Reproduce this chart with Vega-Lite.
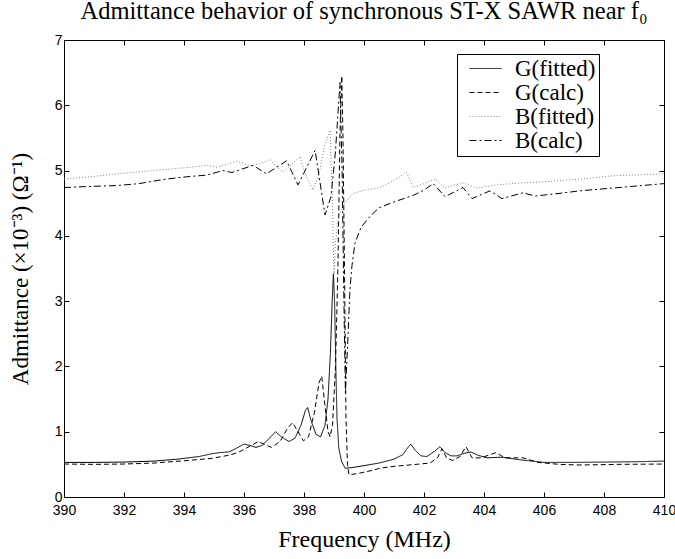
{
  "$schema": "https://vega.github.io/schema/vega-lite/v6.json",
  "width": 600,
  "height": 457,
  "autosize": {"type": "none"},
  "padding": {"left": 64, "top": 40, "right": 11, "bottom": 62},
  "background": "white",
  "title": {
    "text": "Admittance behavior of synchronous ST-X SAWR near f₀",
    "font": "Liberation Serif",
    "fontSize": 24.5,
    "fontWeight": "normal",
    "color": "black",
    "anchor": "middle",
    "offset": 9
  },
  "config": {
    "view": {"stroke": "black", "strokeWidth": 1},
    "axis": {
      "grid": false,
      "domain": false,
      "tickColor": "black",
      "tickWidth": 1,
      "tickSize": 5,
      "labelFont": "Liberation Sans",
      "labelFontSize": 14,
      "labelColor": "black",
      "titleFont": "Liberation Serif",
      "titleFontWeight": "normal",
      "titleColor": "black"
    }
  },
  "data": {
    "values": [
      {"f": 390.0, "v": 0.53, "s": "G(fitted)"},
      {"f": 391.0, "v": 0.53, "s": "G(fitted)"},
      {"f": 392.0, "v": 0.535, "s": "G(fitted)"},
      {"f": 393.0, "v": 0.55, "s": "G(fitted)"},
      {"f": 393.8, "v": 0.58, "s": "G(fitted)"},
      {"f": 394.5, "v": 0.62, "s": "G(fitted)"},
      {"f": 394.9, "v": 0.66, "s": "G(fitted)"},
      {"f": 395.2, "v": 0.68, "s": "G(fitted)"},
      {"f": 395.5, "v": 0.69, "s": "G(fitted)"},
      {"f": 395.8, "v": 0.76, "s": "G(fitted)"},
      {"f": 396.0, "v": 0.81, "s": "G(fitted)"},
      {"f": 396.2, "v": 0.79, "s": "G(fitted)"},
      {"f": 396.4, "v": 0.76, "s": "G(fitted)"},
      {"f": 396.6, "v": 0.79, "s": "G(fitted)"},
      {"f": 396.85, "v": 0.9, "s": "G(fitted)"},
      {"f": 397.05, "v": 1.0, "s": "G(fitted)"},
      {"f": 397.25, "v": 0.92, "s": "G(fitted)"},
      {"f": 397.5, "v": 0.85, "s": "G(fitted)"},
      {"f": 397.7, "v": 0.9, "s": "G(fitted)"},
      {"f": 397.9, "v": 1.1, "s": "G(fitted)"},
      {"f": 398.05, "v": 1.33, "s": "G(fitted)"},
      {"f": 398.12, "v": 1.37, "s": "G(fitted)"},
      {"f": 398.25, "v": 1.15, "s": "G(fitted)"},
      {"f": 398.4, "v": 0.96, "s": "G(fitted)"},
      {"f": 398.55, "v": 0.92, "s": "G(fitted)"},
      {"f": 398.7, "v": 1.1, "s": "G(fitted)"},
      {"f": 398.8, "v": 1.5, "s": "G(fitted)"},
      {"f": 398.88, "v": 2.2, "s": "G(fitted)"},
      {"f": 398.94, "v": 3.0, "s": "G(fitted)"},
      {"f": 398.98, "v": 3.42, "s": "G(fitted)"},
      {"f": 399.02, "v": 3.0, "s": "G(fitted)"},
      {"f": 399.06, "v": 2.0, "s": "G(fitted)"},
      {"f": 399.1, "v": 1.2, "s": "G(fitted)"},
      {"f": 399.16, "v": 0.75, "s": "G(fitted)"},
      {"f": 399.25, "v": 0.55, "s": "G(fitted)"},
      {"f": 399.37, "v": 0.44, "s": "G(fitted)"},
      {"f": 399.6, "v": 0.45, "s": "G(fitted)"},
      {"f": 400.0, "v": 0.48, "s": "G(fitted)"},
      {"f": 400.5, "v": 0.52, "s": "G(fitted)"},
      {"f": 401.0, "v": 0.58, "s": "G(fitted)"},
      {"f": 401.3, "v": 0.65, "s": "G(fitted)"},
      {"f": 401.45, "v": 0.75, "s": "G(fitted)"},
      {"f": 401.56, "v": 0.81, "s": "G(fitted)"},
      {"f": 401.7, "v": 0.72, "s": "G(fitted)"},
      {"f": 401.9, "v": 0.63, "s": "G(fitted)"},
      {"f": 402.1, "v": 0.62, "s": "G(fitted)"},
      {"f": 402.35, "v": 0.7, "s": "G(fitted)"},
      {"f": 402.53, "v": 0.77, "s": "G(fitted)"},
      {"f": 402.7, "v": 0.68, "s": "G(fitted)"},
      {"f": 402.9, "v": 0.63, "s": "G(fitted)"},
      {"f": 403.1, "v": 0.63, "s": "G(fitted)"},
      {"f": 403.35, "v": 0.67, "s": "G(fitted)"},
      {"f": 403.56, "v": 0.69, "s": "G(fitted)"},
      {"f": 403.8, "v": 0.64, "s": "G(fitted)"},
      {"f": 404.1, "v": 0.6, "s": "G(fitted)"},
      {"f": 404.6, "v": 0.61, "s": "G(fitted)"},
      {"f": 405.2, "v": 0.57, "s": "G(fitted)"},
      {"f": 406.0, "v": 0.53, "s": "G(fitted)"},
      {"f": 407.0, "v": 0.53, "s": "G(fitted)"},
      {"f": 408.0, "v": 0.535, "s": "G(fitted)"},
      {"f": 409.0, "v": 0.54, "s": "G(fitted)"},
      {"f": 410.0, "v": 0.55, "s": "G(fitted)"},

      {"f": 390.0, "v": 0.505, "s": "G(calc)"},
      {"f": 391.0, "v": 0.5, "s": "G(calc)"},
      {"f": 392.0, "v": 0.505, "s": "G(calc)"},
      {"f": 393.0, "v": 0.52, "s": "G(calc)"},
      {"f": 394.0, "v": 0.555, "s": "G(calc)"},
      {"f": 394.9, "v": 0.59, "s": "G(calc)"},
      {"f": 395.5, "v": 0.64, "s": "G(calc)"},
      {"f": 395.8, "v": 0.68, "s": "G(calc)"},
      {"f": 396.2, "v": 0.78, "s": "G(calc)"},
      {"f": 396.48, "v": 0.85, "s": "G(calc)"},
      {"f": 396.7, "v": 0.8, "s": "G(calc)"},
      {"f": 396.92, "v": 0.76, "s": "G(calc)"},
      {"f": 397.2, "v": 0.85, "s": "G(calc)"},
      {"f": 397.45, "v": 1.05, "s": "G(calc)"},
      {"f": 397.62, "v": 1.14, "s": "G(calc)"},
      {"f": 397.8, "v": 1.0, "s": "G(calc)"},
      {"f": 397.98, "v": 0.86, "s": "G(calc)"},
      {"f": 398.15, "v": 0.92, "s": "G(calc)"},
      {"f": 398.35, "v": 1.3, "s": "G(calc)"},
      {"f": 398.5, "v": 1.75, "s": "G(calc)"},
      {"f": 398.59, "v": 1.85, "s": "G(calc)"},
      {"f": 398.7, "v": 1.4, "s": "G(calc)"},
      {"f": 398.8, "v": 1.0, "s": "G(calc)"},
      {"f": 398.87, "v": 0.92, "s": "G(calc)"},
      {"f": 398.95, "v": 1.1, "s": "G(calc)"},
      {"f": 399.05, "v": 2.0, "s": "G(calc)"},
      {"f": 399.13, "v": 3.5, "s": "G(calc)"},
      {"f": 399.2, "v": 5.6, "s": "G(calc)"},
      {"f": 399.26, "v": 6.45, "s": "G(calc)"},
      {"f": 399.3, "v": 5.5, "s": "G(calc)"},
      {"f": 399.35, "v": 3.5, "s": "G(calc)"},
      {"f": 399.4, "v": 1.2, "s": "G(calc)"},
      {"f": 399.45, "v": 0.5, "s": "G(calc)"},
      {"f": 399.5, "v": 0.34, "s": "G(calc)"},
      {"f": 399.8, "v": 0.36, "s": "G(calc)"},
      {"f": 400.2, "v": 0.4, "s": "G(calc)"},
      {"f": 400.53, "v": 0.44, "s": "G(calc)"},
      {"f": 401.0, "v": 0.47, "s": "G(calc)"},
      {"f": 401.5, "v": 0.49, "s": "G(calc)"},
      {"f": 402.2, "v": 0.52, "s": "G(calc)"},
      {"f": 402.45, "v": 0.6, "s": "G(calc)"},
      {"f": 402.6, "v": 0.74, "s": "G(calc)"},
      {"f": 402.75, "v": 0.6, "s": "G(calc)"},
      {"f": 402.95, "v": 0.56, "s": "G(calc)"},
      {"f": 403.2, "v": 0.62, "s": "G(calc)"},
      {"f": 403.4, "v": 0.77, "s": "G(calc)"},
      {"f": 403.6, "v": 0.6, "s": "G(calc)"},
      {"f": 403.9, "v": 0.6, "s": "G(calc)"},
      {"f": 404.15, "v": 0.64, "s": "G(calc)"},
      {"f": 404.4, "v": 0.68, "s": "G(calc)"},
      {"f": 404.7, "v": 0.6, "s": "G(calc)"},
      {"f": 405.3, "v": 0.6, "s": "G(calc)"},
      {"f": 405.8, "v": 0.53, "s": "G(calc)"},
      {"f": 406.5, "v": 0.5, "s": "G(calc)"},
      {"f": 407.2, "v": 0.49, "s": "G(calc)"},
      {"f": 408.5, "v": 0.5, "s": "G(calc)"},
      {"f": 410.0, "v": 0.505, "s": "G(calc)"},

      {"f": 390.0, "v": 4.87, "s": "B(fitted)"},
      {"f": 391.0, "v": 4.91, "s": "B(fitted)"},
      {"f": 391.75, "v": 4.95, "s": "B(fitted)"},
      {"f": 392.5, "v": 4.98, "s": "B(fitted)"},
      {"f": 393.4, "v": 5.02, "s": "B(fitted)"},
      {"f": 394.2, "v": 5.05, "s": "B(fitted)"},
      {"f": 394.75, "v": 5.08, "s": "B(fitted)"},
      {"f": 395.1, "v": 5.05, "s": "B(fitted)"},
      {"f": 395.45, "v": 5.1, "s": "B(fitted)"},
      {"f": 395.76, "v": 5.14, "s": "B(fitted)"},
      {"f": 396.0, "v": 5.11, "s": "B(fitted)"},
      {"f": 396.2, "v": 5.07, "s": "B(fitted)"},
      {"f": 396.5, "v": 5.1, "s": "B(fitted)"},
      {"f": 396.87, "v": 5.17, "s": "B(fitted)"},
      {"f": 397.1, "v": 5.05, "s": "B(fitted)"},
      {"f": 397.31, "v": 4.98, "s": "B(fitted)"},
      {"f": 397.6, "v": 5.1, "s": "B(fitted)"},
      {"f": 397.87, "v": 5.22, "s": "B(fitted)"},
      {"f": 398.0, "v": 5.0, "s": "B(fitted)"},
      {"f": 398.14, "v": 4.85, "s": "B(fitted)"},
      {"f": 398.31, "v": 4.7, "s": "B(fitted)"},
      {"f": 398.5, "v": 4.95, "s": "B(fitted)"},
      {"f": 398.7, "v": 5.4, "s": "B(fitted)"},
      {"f": 398.87, "v": 5.62, "s": "B(fitted)"},
      {"f": 398.95, "v": 4.5, "s": "B(fitted)"},
      {"f": 399.0, "v": 3.4, "s": "B(fitted)"},
      {"f": 399.05, "v": 3.9, "s": "B(fitted)"},
      {"f": 399.15, "v": 4.3, "s": "B(fitted)"},
      {"f": 399.35, "v": 4.5, "s": "B(fitted)"},
      {"f": 399.65, "v": 4.65, "s": "B(fitted)"},
      {"f": 400.0, "v": 4.7, "s": "B(fitted)"},
      {"f": 400.53, "v": 4.74, "s": "B(fitted)"},
      {"f": 401.0, "v": 4.85, "s": "B(fitted)"},
      {"f": 401.42, "v": 4.97, "s": "B(fitted)"},
      {"f": 401.64, "v": 4.74, "s": "B(fitted)"},
      {"f": 402.0, "v": 4.8, "s": "B(fitted)"},
      {"f": 402.37, "v": 4.87, "s": "B(fitted)"},
      {"f": 402.7, "v": 4.73, "s": "B(fitted)"},
      {"f": 403.0, "v": 4.78, "s": "B(fitted)"},
      {"f": 403.31, "v": 4.81, "s": "B(fitted)"},
      {"f": 403.76, "v": 4.73, "s": "B(fitted)"},
      {"f": 404.42, "v": 4.78, "s": "B(fitted)"},
      {"f": 405.2, "v": 4.81, "s": "B(fitted)"},
      {"f": 406.09, "v": 4.83, "s": "B(fitted)"},
      {"f": 407.2, "v": 4.87, "s": "B(fitted)"},
      {"f": 408.3, "v": 4.92, "s": "B(fitted)"},
      {"f": 410.0, "v": 4.95, "s": "B(fitted)"},

      {"f": 390.0, "v": 4.74, "s": "B(calc)"},
      {"f": 391.0, "v": 4.76, "s": "B(calc)"},
      {"f": 391.75, "v": 4.77, "s": "B(calc)"},
      {"f": 392.5, "v": 4.8, "s": "B(calc)"},
      {"f": 393.4, "v": 4.87, "s": "B(calc)"},
      {"f": 394.2, "v": 4.91, "s": "B(calc)"},
      {"f": 394.75, "v": 4.93, "s": "B(calc)"},
      {"f": 395.3, "v": 5.0, "s": "B(calc)"},
      {"f": 395.6, "v": 4.97, "s": "B(calc)"},
      {"f": 396.3, "v": 5.08, "s": "B(calc)"},
      {"f": 396.75, "v": 4.95, "s": "B(calc)"},
      {"f": 397.42, "v": 5.15, "s": "B(calc)"},
      {"f": 397.8, "v": 4.78, "s": "B(calc)"},
      {"f": 398.37, "v": 5.31, "s": "B(calc)"},
      {"f": 398.7, "v": 4.32, "s": "B(calc)"},
      {"f": 398.9, "v": 4.6, "s": "B(calc)"},
      {"f": 399.05, "v": 5.3, "s": "B(calc)"},
      {"f": 399.2, "v": 6.35, "s": "B(calc)"},
      {"f": 399.27, "v": 5.0, "s": "B(calc)"},
      {"f": 399.33, "v": 3.0, "s": "B(calc)"},
      {"f": 399.38, "v": 1.6, "s": "B(calc)"},
      {"f": 399.47, "v": 2.5, "s": "B(calc)"},
      {"f": 399.53, "v": 3.17, "s": "B(calc)"},
      {"f": 399.6, "v": 3.55, "s": "B(calc)"},
      {"f": 399.7, "v": 3.89, "s": "B(calc)"},
      {"f": 399.9, "v": 4.13, "s": "B(calc)"},
      {"f": 400.2, "v": 4.3, "s": "B(calc)"},
      {"f": 400.5, "v": 4.43, "s": "B(calc)"},
      {"f": 401.0, "v": 4.52, "s": "B(calc)"},
      {"f": 401.64, "v": 4.62, "s": "B(calc)"},
      {"f": 402.0, "v": 4.7, "s": "B(calc)"},
      {"f": 402.31, "v": 4.8, "s": "B(calc)"},
      {"f": 402.7, "v": 4.6, "s": "B(calc)"},
      {"f": 403.3, "v": 4.74, "s": "B(calc)"},
      {"f": 403.6, "v": 4.57, "s": "B(calc)"},
      {"f": 404.2, "v": 4.69, "s": "B(calc)"},
      {"f": 404.6, "v": 4.57, "s": "B(calc)"},
      {"f": 405.3, "v": 4.66, "s": "B(calc)"},
      {"f": 405.7, "v": 4.61, "s": "B(calc)"},
      {"f": 406.5, "v": 4.65, "s": "B(calc)"},
      {"f": 407.2, "v": 4.69, "s": "B(calc)"},
      {"f": 408.5, "v": 4.74, "s": "B(calc)"},
      {"f": 410.0, "v": 4.8, "s": "B(calc)"}
    ]
  },
  "resolve": {"axis": {"x": "independent", "y": "independent"}},
  "layer": [
    {
      "mark": {"type": "line", "strokeWidth": 1, "clip": true},
      "encoding": {
        "x": {
          "field": "f", "type": "quantitative",
          "scale": {"domain": [390, 410], "nice": false, "zero": false},
          "axis": {
            "orient": "bottom", "title": "Frequency (MHz)",
            "values": [390, 392, 394, 396, 398, 400, 402, 404, 406, 408, 410],
            "ticks": false, "tickSize": 0,
            "labelPadding": 6, "titlePadding": 10, "titleFontSize": 24, "labelFlush": false
          }
        },
        "y": {
          "field": "v", "type": "quantitative",
          "scale": {"domain": [0, 7], "nice": false},
          "axis": {
            "orient": "left", "title": "Admittance (×10⁻³) (Ω⁻¹)",
            "values": [0, 1, 2, 3, 4, 5, 6, 7],
            "ticks": false, "tickSize": 0,
            "labelPadding": 2, "titlePadding": 22, "titleFontSize": 23
          }
        },
        "color": {
          "field": "s", "type": "nominal",
          "scale": {
            "domain": ["G(fitted)", "G(calc)", "B(fitted)", "B(calc)"],
            "range": ["black", "black", "#808080", "black"]
          },
          "legend": {
            "title": null,
            "orient": "none",
            "legendX": 393,
            "legendY": 14,
            "symbolType": "M-1.6,0H1.6",
            "symbolSize": 400,
            "symbolStrokeWidth": 1,
            "symbolOffset": 14,
            "labelFont": "Liberation Serif",
            "labelFontSize": 23,
            "labelColor": "black",
            "strokeColor": "black",
            "fillColor": "white",
            "padding": 3,
            "rowPadding": 0,
            "labelOffset": 18,
            "cornerRadius": 0
          }
        },
        "strokeDash": {
          "field": "s", "type": "nominal",
          "scale": {
            "domain": ["G(fitted)", "G(calc)", "B(fitted)", "B(calc)"],
            "range": [[1, 0], [5, 3], [1, 2], [7, 3, 2, 3]]
          },
          "legend": {
            "title": null,
            "orient": "none",
            "legendX": 393,
            "legendY": 14,
            "symbolType": "M-1.6,0H1.6",
            "symbolSize": 400,
            "symbolStrokeWidth": 1,
            "symbolOffset": 14,
            "labelFont": "Liberation Serif",
            "labelFontSize": 23,
            "labelColor": "black",
            "strokeColor": "black",
            "fillColor": "white",
            "padding": 3,
            "rowPadding": 0,
            "labelOffset": 18,
            "cornerRadius": 0
          }
        }
      }
    },
    {
      "mark": {"type": "line", "opacity": 0},
      "encoding": {
        "x": {
          "field": "f", "type": "quantitative",
          "axis": {
            "orient": "bottom", "title": null, "labels": false, "offset": -5,
            "values": [390, 392, 394, 396, 398, 400, 402, 404, 406, 408, 410]
          }
        },
        "y": {
          "field": "v", "type": "quantitative",
          "axis": {
            "orient": "left", "title": null, "labels": false, "offset": -5,
            "values": [0, 1, 2, 3, 4, 5, 6, 7]
          }
        },
        "detail": {"field": "s"}
      }
    },
    {
      "mark": {"type": "line", "opacity": 0},
      "encoding": {
        "x": {
          "field": "f", "type": "quantitative",
          "axis": {
            "orient": "top", "title": null, "labels": false, "offset": -5,
            "values": [390, 392, 394, 396, 398, 400, 402, 404, 406, 408, 410]
          }
        },
        "y": {
          "field": "v", "type": "quantitative",
          "axis": {
            "orient": "right", "title": null, "labels": false, "offset": -5,
            "values": [0, 1, 2, 3, 4, 5, 6, 7]
          }
        },
        "detail": {"field": "s"}
      }
    }
  ]
}
